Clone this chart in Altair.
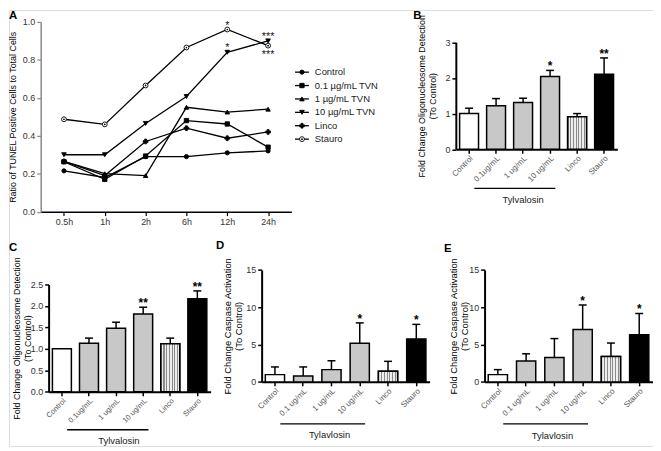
import altair as alt
import pandas as pd

W, H = 650, 440

# ---------------- Panel A data ----------------
times = ["0.5h", "1h", "2h", "6h", "12h", "24h"]
series = ["Control", "0.1 µg/mL TVN", "1 µg/mL TVN", "10 µg/mL TVN", "Linco", "Stauro"]
a_control = [0.215, 0.18, 0.29, 0.29, 0.31, 0.32]
a_tvn01 = [0.263, 0.17, 0.293, 0.48, 0.462, 0.34]
a_tvn1 = [0.265, 0.20, 0.19, 0.55, 0.525, 0.54]
a_tvn10 = [0.30, 0.30, 0.465, 0.607, 0.84, 0.90]
a_linco = [0.265, 0.19, 0.37, 0.44, 0.387, 0.42]
a_stauro = [0.487, 0.46, 0.665, 0.865, 0.96, 0.875]
a_star_above_time = ["12h", "12h", "24h"]
a_star_above_value = [0.96, 0.84, 0.90]
a_star_above_text = ["*", "*", "***"]
a_star_below_time = ["24h"]
a_star_below_value = [0.875]
a_star_below_text = ["***"]
a_yticks = [0.0, 0.2, 0.4, 0.6, 0.8, 1.0]

# ---------------- Bar panels data ----------------
cats_bc = ["Control", "0.1ug/mL", "1 ug/mL", "10 ug/mL", "Linco", "Stauro"]
cats_de = ["Control", "0.1 ug/mL", "1 ug/mL", "10 ug/mL", "Linco", "Stauro"]

b_mean = [1.0, 1.22, 1.31, 2.04, 0.91, 2.10]
b_err = [0.15, 0.20, 0.12, 0.17, 0.09, 0.46]
b_stars = ["", "", "", "*", "", "**"]
b_ticks = [0, 1, 2, 3]

c_mean = [1.0, 1.13, 1.48, 1.81, 1.12, 2.17]
c_err = [0.0, 0.12, 0.14, 0.16, 0.13, 0.18]
c_stars = ["", "", "", "**", "", "**"]
c_ticks = [0.0, 0.5, 1.0, 1.5, 2.0, 2.5]

d_mean = [0.97, 0.80, 1.64, 5.18, 1.42, 5.75]
d_err = [1.03, 1.20, 1.19, 2.72, 1.33, 1.95]
d_stars = ["", "", "", "*", "", "*"]
d_ticks = [0, 5, 10, 15]

e_mean = [0.97, 2.80, 3.27, 7.03, 3.40, 6.33]
e_err = [0.67, 0.96, 2.53, 3.27, 1.80, 2.83]
e_stars = ["", "", "", "*", "", "*"]
e_ticks = [0, 5, 10, 15]

bar_fills = ["white", "#c8c8c8", "#c8c8c8", "#c8c8c8", "white", "black"]
shapes = ["circle", "square", "triangle-up", "triangle-down", "cross", "circle"]
sizes = [18, 24, 24, 24, 16, 38]
pt_fills = ["black", "black", "black", "black", "black", "white"]

FONT = "Liberation Sans"


def stripes(n=7, frac=0.38, c1="#8a8a8a", c2="#eeeeee"):
    stops = []
    for i in range(n):
        a = i / n
        b = (i + frac) / n
        c = (i + 1) / n
        stops += [
            alt.GradientStop(offset=a, color=c1),
            alt.GradientStop(offset=b, color=c1),
            alt.GradientStop(offset=b, color=c2),
            alt.GradientStop(offset=c, color=c2),
        ]
    return alt.LinearGradient(gradient="linear", stops=stops, x1=0, x2=1, y1=0, y2=0)


# ---------------- Panel A ----------------
rows = []
for s, vals in zip(series, [a_control, a_tvn01, a_tvn1, a_tvn10, a_linco, a_stauro]):
    for i, (t, v) in enumerate(zip(times, vals)):
        rows.append({"series": s, "time": t, "ti": i, "value": v})
df_a = pd.DataFrame(rows)

a_xs = alt.Scale(type="point", domain=times, range=[32, 285], padding=0.57)
a_ys = alt.Scale(domain=[0, 1.0], range=[203.5, 12], nice=False)
a_xaxis = alt.Axis(orient="bottom", offset=203.5 - H, labelAngle=0, labelFontSize=9,
                   tickSize=4, labelPadding=2, domainWidth=1.5, tickWidth=1.2,
                   title=None, labelOverlap=False, domainColor="black", tickColor="black",
                   labelColor="#333")
a_yaxis = alt.Axis(orient="left", offset=-32, values=a_yticks, format=".1f", tickSize=4,
                   labelFontSize=9, labelPadding=2,
                   title="Ratio of TUNEL Positive Cells to Total Cells",
                   titleFontSize=9, titleFontWeight="normal", titlePadding=5,
                   minExtent=18, maxExtent=18, titleAngle=270, titleBaseline="bottom",
                   domainWidth=1.5, tickWidth=1.2, grid=False, labelColor="#333")
ax = alt.X("time:N", scale=a_xs, axis=a_xaxis)
ay = alt.Y("value:Q", scale=a_ys, axis=a_yaxis)

shape_enc = alt.Shape("series:N", scale=alt.Scale(domain=series, range=shapes), legend=None)
size_enc = alt.Size("series:N", scale=alt.Scale(domain=series, range=sizes), legend=None)
fill_enc = alt.Fill("series:N", scale=alt.Scale(domain=series, range=pt_fills), legend=None)

a_lines = alt.Chart(df_a).mark_line(color="black", strokeWidth=1.3).encode(
    x=ax, y=ay, detail="series:N", order="ti:Q")
a_pts = alt.Chart(df_a).mark_point(filled=True, stroke="black", strokeWidth=0.9, opacity=1).encode(
    x=ax, y=ay, shape=shape_enc, size=size_enc, fill=fill_enc)
a_dot = alt.Chart(df_a).transform_filter(alt.datum.series == "Stauro").mark_point(
    filled=True, shape="circle", size=3, color="black", opacity=1).encode(x=ax, y=ay)
df_sa = pd.DataFrame({"time": a_star_above_time, "value": a_star_above_value, "t": a_star_above_text})
df_sb = pd.DataFrame({"time": a_star_below_time, "value": a_star_below_value, "t": a_star_below_text})
a_star1 = alt.Chart(df_sa).mark_text(fontSize=11, baseline="alphabetic", dy=-1, color="#222").encode(
    x=ax, y=ay, text="t:N")
a_star2 = alt.Chart(df_sb).mark_text(fontSize=11, baseline="alphabetic", dy=12, color="#222").encode(
    x=ax, y=ay, text="t:N")
panel_a = alt.layer(a_lines, a_pts, a_dot, a_star1, a_star2)

# legend for A
df_leg = pd.DataFrame({"series": series})
ly = alt.Y("series:N", scale=alt.Scale(type="point", domain=series, range=[62.7, 130.3], padding=0),
           axis=None)
leg_rule = alt.Chart(df_leg).mark_rule(color="black", strokeWidth=1.3).encode(
    y=ly, x=alt.value(288.7), x2=alt.value(302.7))
leg_pts = alt.Chart(df_leg).mark_point(filled=True, stroke="black", strokeWidth=0.9, opacity=1).encode(
    y=ly, x=alt.value(295.7), shape=shape_enc, size=size_enc, fill=fill_enc)
leg_dot = alt.Chart(df_leg).transform_filter(alt.datum.series == "Stauro").mark_point(
    filled=True, shape="circle", size=3, color="black", opacity=1).encode(y=ly, x=alt.value(295.7))
leg_txt = alt.Chart(df_leg).mark_text(align="left", baseline="middle", fontSize=9.5, color="#222").encode(
    y=ly, x=alt.value(308.7), text="series:N")
legend_a = alt.layer(leg_rule, leg_pts, leg_dot, leg_txt)


# ---------------- Bar panels ----------------
def bar_panel(cats, mean, err, stars, x_range, y_range, y_max, y_ticks, y_fmt, y_title,
              extent, title_pad, p_inner, p_outer, bracket_y, label_y, group_label,
              label_fs=8, label_bp=0.5, title_fs=9.5):
    df = pd.DataFrame({"cat": cats, "mean": mean, "err": err, "star": stars})
    df["top"] = df["mean"] + df["err"]
    xs = alt.Scale(domain=cats, range=x_range, paddingInner=p_inner, paddingOuter=p_outer)
    ys = alt.Scale(domain=[0, y_max], range=y_range, nice=False, zero=True)
    xaxis = alt.Axis(orient="bottom", offset=y_range[0] - H, labelAngle=-45, labelFontSize=label_fs,
                     labelColor="#555", tickSize=4, labelPadding=1, title=None,
                     domainWidth=2, tickWidth=1.5, labelOverlap=False,
                     domainColor="black", tickColor="black")
    yaxis = alt.Axis(orient="left", offset=-x_range[0], values=y_ticks, format=y_fmt, tickSize=4,
                     labelFontSize=9, labelPadding=2, labelColor="#333", title=y_title,
                     titleFontSize=title_fs, titleFontWeight="normal", titlePadding=title_pad,
                     minExtent=extent, maxExtent=extent, titleAngle=270, titleBaseline="bottom",
                     domainWidth=2, tickWidth=1.5, grid=False,
                     domainColor="black", tickColor="black")
    x = alt.X("cat:N", scale=xs, axis=xaxis)
    y = alt.Y("mean:Q", scale=ys, axis=yaxis)
    yt = alt.Y("top:Q", scale=ys, axis=yaxis)
    base = alt.Chart(df)
    errdf = base.transform_filter(alt.datum.err > 0)
    err_rule = errdf.mark_rule(color="black", strokeWidth=1.5).encode(x=x, y=y, y2="top:Q")
    err_cap = errdf.mark_tick(color="black", thickness=1.5, size=8, opacity=1).encode(x=x, y=yt)
    bars = base.mark_bar(stroke="black", strokeWidth=1.5).encode(
        x=x, y=y,
        fill=alt.Fill("cat:N", scale=alt.Scale(domain=cats, range=bar_fills), legend=None))
    linco = base.transform_filter(alt.datum.cat == "Linco").mark_bar(
        stroke="black", strokeWidth=1.5, fill=stripes()).encode(x=x, y=y)
    star = base.mark_text(fontSize=12, fontWeight="bold", baseline="alphabetic", dy=0,
                          color="black").encode(x=x, y=yt, text="star:N")
    df_br = pd.DataFrame({"cat": [cats[0], cats[3]], "o": [0, 1]})
    bracket = alt.Chart(df_br).mark_line(color="black", strokeWidth=1.5).encode(
        x=alt.X("cat:N", scale=xs, axis=xaxis, bandPosition=0.78), y=alt.value(bracket_y),
        order="o:Q")
    df_lab = pd.DataFrame({"cat": [cats[2]], "label": [group_label]})
    lab = alt.Chart(df_lab).mark_text(fontSize=9.5, baseline="middle", align="center",
                                      color="#222").encode(
        x=alt.X("cat:N", scale=xs, axis=xaxis, bandPosition=label_bp), y=alt.value(label_y),
        text="label:N")
    return alt.layer(err_rule, err_cap, bars, linco, star, bracket, lab)


oligo_title = ["Fold Change Oligonucleosome Detection", "(To Control)"]
casp_title = ["Fold Change Caspase Activation", "(To Control)"]

panel_b = bar_panel(cats_bc, b_mean, b_err, b_stars, [451, 614], [140.5, 32.5], 3, b_ticks, "d",
                    oligo_title, 14, 5, 0.3, 0.14, 180, 192, "Tylvalosin", 8, 0.5, 9)
panel_c = bar_panel(cats_bc, c_mean, c_err, c_stars, [40, 203.5], [385.3, 277], 2.5, c_ticks, ".1f",
                    oligo_title, 16, 0, 0.3, 0.14, 423.7, 435, "Tylvalosin", 7.5, 0.65, 9)
panel_d = bar_panel(cats_de, d_mean, d_err, d_stars, [255, 424.5], [375.3, 262.3], 15, d_ticks, "d",
                    casp_title, 14, 4, 0.32, 0.13, 417.7, 428.7, "Tylavlosin", 8, 0.4)
panel_e = bar_panel(cats_de, e_mean, e_err, e_stars, [480, 649.5], [375.3, 262.3], 15, e_ticks, "d",
                    casp_title, 13, 2, 0.32, 0.13, 417.7, 429.7, "Tylavlosin", 8, 0.4)

# ---------------- Panel letters ----------------
panel_letters = ["A", "B", "C", "D", "E"]
letter_xy = [(0, 9), (408, 9), (0, 243), (209, 241), (439, 244)]
letters = []
for L, (lx, lyy) in zip(panel_letters, letter_xy):
    letters.append(alt.Chart(pd.DataFrame({"t": [L]})).mark_text(
        fontSize=11.5, fontWeight="bold", align="left", baseline="alphabetic", color="black"
    ).encode(x=alt.value(lx), y=alt.value(lyy), text="t:N"))

chart = alt.layer(panel_a, legend_a, panel_b, panel_c, panel_d, panel_e, *letters).resolve_scale(
    x="independent", y="independent", fill="independent", shape="independent", size="independent"
).properties(width=W, height=H, padding=0).configure_view(stroke=None).configure(font=FONT)

chart.save("out.html", embed_options={"renderer": "svg", "actions": False})
